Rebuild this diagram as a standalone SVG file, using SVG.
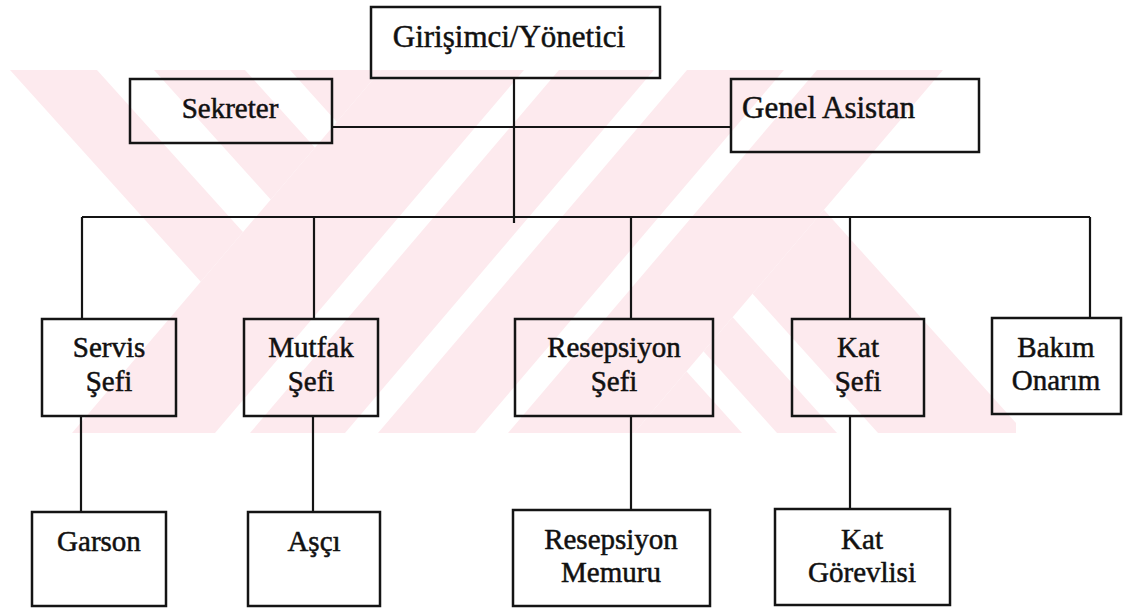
<svg xmlns="http://www.w3.org/2000/svg" width="1124" height="608" viewBox="0 0 1124 608">
<style>
.box{fill:none;stroke:#141414;stroke-width:2.5}
.ln{fill:none;stroke:#141414;stroke-width:2.2}
.wm{fill:#fdeaee}
text{font-family:"Liberation Serif","Times New Roman",serif;font-size:29px;fill:#111;stroke:#111;stroke-width:0.5;text-anchor:middle}
.big{font-size:31px}
</style>
<defs><clipPath id="wmclip"><rect x="10" y="70" width="1006" height="363"/></clipPath></defs>
<rect width="1124" height="608" fill="#fff"/>
<g id="watermark" clip-path="url(#wmclip)">
<polygon class="wm" points="10,70 97,70 424,433 337,433"/>
<polygon class="wm" points="154,70 245,70 572,433 481,433"/>
<polygon class="wm" points="290,70 415,70 742,433 617,433"/>
<polygon class="wm" points="450,70 510,70 837,433 777,433"/>
<polygon class="wm" points="551,70 698,70 1025,433 878,433"/>
<polygon fill="#fff" points="381,70 943,70 634,433 72,433"/>
<polygon class="wm" points="381,70 524,70 215,433 72,433"/>
<polygon class="wm" points="559,70 654,70 345,433 250,433"/>
<polygon class="wm" points="687,70 784,70 475,433 378,433"/>
<polygon class="wm" points="817,70 943,70 634,433 508,433"/>
</g>
<g id="connectors">
<path class="ln" d="M514 78V223M332 127H731M82 217H1090M82 217V319M314 217V319M631 217V319M850 217V319M1090 217V318M81 416V512M313 416V512M631 416V510M850 416V509"/>
</g>
<g id="n-yonetici"><rect class="box" x="371" y="7" width="289" height="71"/><text class="big" x="509" y="47">Girişimci/Yönetici</text></g>
<g id="n-sekreter"><rect class="box" x="130" y="79" width="202" height="64"/><text x="230" y="118">Sekreter</text></g>
<g id="n-asistan"><rect class="box" x="731" y="79" width="248" height="73"/><text class="big" x="742" y="118" style="text-anchor:start">Genel Asistan</text></g>
<g id="n-servis"><rect class="box" x="42" y="319" width="134" height="97"/><text x="109" y="357">Servis</text><text x="109" y="391">Şefi</text></g>
<g id="n-mutfak"><rect class="box" x="244" y="319" width="134" height="97"/><text x="311" y="357">Mutfak</text><text x="311" y="391">Şefi</text></g>
<g id="n-resepsiyon"><rect class="box" x="515" y="319" width="198" height="97"/><text x="614" y="357">Resepsiyon</text><text x="614" y="391">Şefi</text></g>
<g id="n-kat"><rect class="box" x="792" y="319" width="132" height="97"/><text x="858" y="357">Kat</text><text x="858" y="391">Şefi</text></g>
<g id="n-bakim"><rect class="box" x="992" y="318" width="129" height="96"/><text x="1056" y="357">Bakım</text><text x="1056" y="390">Onarım</text></g>
<g id="n-garson"><rect class="box" x="32" y="512" width="134" height="94"/><text x="99" y="551">Garson</text></g>
<g id="n-asci"><rect class="box" x="248" y="512" width="132" height="94"/><text x="314" y="551">Aşçı</text></g>
<g id="n-memur"><rect class="box" x="513" y="510" width="197" height="96"/><text x="611" y="549">Resepsiyon</text><text x="611" y="582">Memuru</text></g>
<g id="n-gorevli"><rect class="box" x="775" y="509" width="175" height="96"/><text x="862" y="549">Kat</text><text x="862" y="582">Görevlisi</text></g>
</svg>
